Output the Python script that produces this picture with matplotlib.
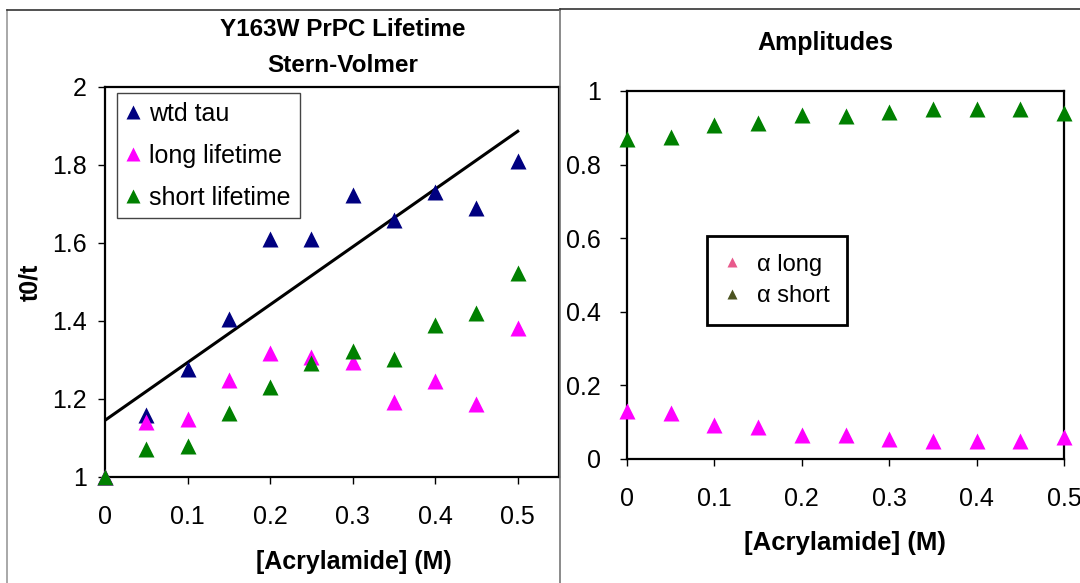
import numpy as np
import matplotlib.pyplot as plt
from matplotlib.lines import Line2D

plt.rcParams['font.family'] = ['Liberation Sans', 'DejaVu Sans']

# Acrylamide concentration (M)
conc = [0, 0.05, 0.1, 0.15, 0.2, 0.25, 0.3, 0.35, 0.4, 0.45, 0.5]

# Stern-Volmer t0/t
wtd_tau = [1.0, 1.16, 1.277, 1.405, 1.61, 1.61, 1.723, 1.659, 1.731, 1.69, 1.81]
long_life = [1.0, 1.142, 1.149, 1.25, 1.319, 1.307, 1.296, 1.193, 1.246, 1.187, 1.383]
short_life = [1.0, 1.072, 1.08, 1.164, 1.232, 1.292, 1.323, 1.302, 1.39, 1.42, 1.523]

# amplitudes
a_long = [0.13, 0.124, 0.092, 0.088, 0.065, 0.065, 0.053, 0.048, 0.048, 0.048, 0.06]
a_short = [0.87, 0.876, 0.908, 0.912, 0.935, 0.933, 0.944, 0.951, 0.951, 0.951, 0.94]

W, H = 1080, 583
fig = plt.figure(figsize=(W / 100, H / 100), dpi=100)

def fx(px):
    return px / W

def fy(py):
    return 1 - py / H

# panel borders (chart areas)
fig.add_artist(Line2D([fx(7), fx(7)], [fy(10), 0], color='#999999', lw=1.2))
fig.add_artist(Line2D([fx(7), fx(560)], [fy(10), fy(10)], color='#333333', lw=1.2))
fig.add_artist(Line2D([fx(560), fx(560)], [fy(9), 0], color='#777777', lw=1.2))
fig.add_artist(Line2D([fx(560), 1], [fy(9), fy(9)], color='#333333', lw=1.2))

ms = 11
tick_fs = 18
lab_fs = 17.5

# ---- left: Stern-Volmer
ax1 = fig.add_axes([fx(105), fy(477), fx(559 - 105), (477 - 87) / H])
ax1.plot(conc, wtd_tau, '^', color='#000080', ms=ms, mec='none', label='wtd tau', clip_on=False, zorder=3)
ax1.plot(conc, long_life, '^', color='#FF00FF', ms=ms, mec='none', label='long lifetime', clip_on=False, zorder=3)
ax1.plot(conc, short_life, '^', color='#008000', ms=ms, mec='none', label='short lifetime', clip_on=False, zorder=3)

# linear fit of weighted tau
k, b = np.polyfit(conc, wtd_tau, 1)
xx = np.array([conc[0], conc[-1]])
ax1.plot(xx, k * xx + b, color='black', lw=2.2, zorder=2)

ax1.set_xlim(0, 0.55)
ax1.set_ylim(1, 2)
ax1.set_xticks([0, 0.1, 0.2, 0.3, 0.4, 0.5])
ax1.set_xticklabels(['0', '0.1', '0.2', '0.3', '0.4', '0.5'])
ax1.set_yticks([1, 1.2, 1.4, 1.6, 1.8, 2])
ax1.set_yticklabels(['1', '1.2', '1.4', '1.6', '1.8', '2'])
ax1.tick_params(axis='both', labelsize=tick_fs, length=5, width=1, direction='out')
ax1.tick_params(axis='x', pad=15)
ax1.tick_params(axis='y', pad=8)
for s in ax1.spines.values():
    s.set_linewidth(1.6)

leg1 = ax1.legend(loc='upper left', bbox_to_anchor=(0.026, 0.985), borderaxespad=0,
                  fontsize=18, handlelength=0.6, handletextpad=0.35, labelspacing=0.72,
                  markerscale=0.9, fancybox=False, framealpha=1, borderpad=0.35)
leg1.get_frame().set_edgecolor('#444444')
leg1.get_frame().set_linewidth(1.0)

fig.text(fx(343), fy(30), 'Y163W PrPC Lifetime', ha='center', va='center', fontsize=lab_fs, fontweight='bold')
fig.text(fx(343), fy(65), 'Stern-Volmer', ha='center', va='center', fontsize=lab_fs, fontweight='bold')
fig.text(fx(354), fy(562), '[Acrylamide] (M)', ha='center', va='center', fontsize=18, fontweight='bold')
fig.text(fx(30), fy(282), 't0/t', ha='center', va='center', rotation=90, fontsize=18, fontweight='bold')

# ---- right: amplitudes
ax2 = fig.add_axes([fx(627), fy(459), fx(1064 - 627), (459 - 91) / H])
ax2.plot(conc, a_short, '^', color='#008000', ms=ms, mec='none', clip_on=False, zorder=3)
ax2.plot(conc, a_long, '^', color='#FF00FF', ms=ms, mec='none', clip_on=False, zorder=3)
ax2.set_xlim(0, 0.5)
ax2.set_ylim(0, 1)
ax2.set_xticks([0, 0.1, 0.2, 0.3, 0.4, 0.5])
ax2.set_xticklabels(['0', '0.1', '0.2', '0.3', '0.4', '0.5'])
ax2.set_yticks([0, 0.2, 0.4, 0.6, 0.8, 1])
ax2.set_yticklabels(['0', '0.2', '0.4', '0.6', '0.8', '1'])
ax2.tick_params(axis='both', labelsize=tick_fs, length=5, width=1, direction='out')
ax2.tick_params(axis='x', pad=15)
ax2.tick_params(axis='y', pad=14)
for s in ax2.spines.values():
    s.set_linewidth(1.6)

amp_labels = ['\u03b1 long', '\u03b1 short']
amp_colors = ['#E85A8C', '#4B5320']
handles = [Line2D([], [], ls='none', marker='^', color=c, ms=7, mec='none') for c in amp_colors]
leg2 = ax2.legend(handles, amp_labels, loc='upper left', bbox_to_anchor=(0.183, 0.606), borderaxespad=0,
                  fontsize=17, handlelength=0.6, handletextpad=0.75, labelspacing=0.4,
                  fancybox=False, framealpha=1, borderpad=0.75)
leg2.get_frame().set_edgecolor('black')
leg2.get_frame().set_linewidth(2.0)

fig.text(fx(825), fy(43), 'Amplitudes', ha='center', va='center', fontsize=18, fontweight='bold')
fig.text(fx(845), fy(543), '[Acrylamide] (M)', ha='center', va='center', fontsize=18.5, fontweight='bold')

fig.savefig('out.png', dpi=100)
